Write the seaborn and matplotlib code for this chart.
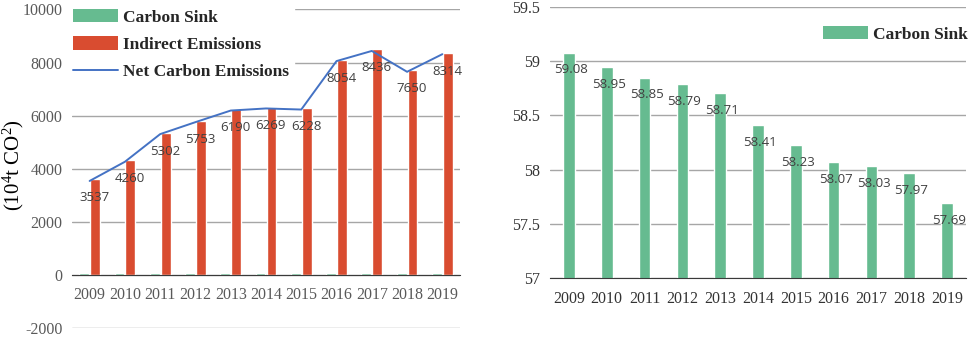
import matplotlib
matplotlib.use("Agg")
import matplotlib.pyplot as plt
from matplotlib.patches import Patch
from matplotlib.lines import Line2D
import numpy as np
import pandas as pd
import seaborn as sns

years = [2009, 2010, 2011, 2012, 2013, 2014, 2015, 2016, 2017, 2018, 2019]
net_emissions = [3537, 4260, 5302, 5753, 6190, 6269, 6228, 8054, 8436, 7650, 8314]
carbon_sink = [59.08, 58.95, 58.85, 58.79, 58.71, 58.41, 58.23, 58.07, 58.03, 57.97, 57.69]
indirect_emissions = [n + s for n, s in zip(net_emissions, carbon_sink)]

green = "#66BB90"
red = "#D94C30"
blue = "#4472C4"
grid_c = "#A6A6A6"
tick_c = "#595959"
lab_c = "#404040"

sns.set_style("white")
plt.rcParams["font.family"] = ["Liberation Serif", "DejaVu Serif"]
plt.rcParams["axes.unicode_minus"] = False
plt.rcParams["mathtext.fontset"] = "custom"
plt.rcParams["mathtext.rm"] = "Liberation Serif"
plt.rcParams["mathtext.it"] = "Liberation Serif:italic"

bars_df = pd.DataFrame({
    "year": years * 2,
    "value": carbon_sink + indirect_emissions,
    "series": ["Carbon Sink"] * len(years) + ["Indirect Emissions"] * len(years),
})
sink_df = pd.DataFrame({"year": years, "sink": carbon_sink})
net_df = pd.DataFrame({"pos": np.arange(len(years)), "net": net_emissions})

fig = plt.figure(figsize=(9.69, 3.37), dpi=100)
ax1 = fig.add_axes([0.0743, 0.027, 0.4004, 0.945])
ax2 = fig.add_axes([0.5676, 0.175, 0.4293, 0.804])

# ---- left panel
sns.barplot(data=bars_df, x="year", y="value", hue="series",
            hue_order=["Carbon Sink", "Indirect Emissions"],
            palette=[green, red], saturation=1, width=0.62, gap=0.1,
            legend=False, ax=ax1)
sns.lineplot(data=net_df, x="pos", y="net", color=blue, lw=1.4, ax=ax1)
for i, v in enumerate(net_emissions):
    ax1.annotate(f"{v}", (i, v), xytext=(3.6, -12.2), textcoords="offset points",
                 ha="center", va="center", fontsize=9.5, color=lab_c, family="Open Sans")

ax1.set_ylim(-2000, 10000)
ax1.set_yticks(range(-2000, 10001, 2000))
ax1.set_xlim(-0.5, len(years) - 0.5)
ax1.yaxis.grid(True, color=grid_c, lw=1)
ax1.set_axisbelow(True)
for s in ["top", "right", "left"]:
    ax1.spines[s].set_visible(False)
ax1.spines["bottom"].set_position(("data", 0))
ax1.spines["bottom"].set_color("#3A3A3A")
ax1.tick_params(axis="both", length=0, labelsize=11.5, labelcolor=tick_c)
ax1.tick_params(axis="x", pad=8.5)
ax1.tick_params(axis="y", pad=7)
ax1.set_xlabel("")
ax1.set_ylabel("")
fig.text(0.014, 0.51, "(10$^{4}$t CO$^{2}$)", rotation=90, ha="center", va="center",
         fontsize=15, color="black")

handles = [Patch(facecolor=green, edgecolor="none"),
           Patch(facecolor=red, edgecolor="none"),
           Line2D([], [], color=blue, lw=1.4)]
ax1.legend(handles, ["Carbon Sink", "Indirect Emissions", "Net Carbon Emissions"],
           loc="upper left", bbox_to_anchor=(-0.012, 1.018), frameon=True,
           fancybox=False, edgecolor="white", framealpha=1,
           prop={"weight": "bold", "size": 12.5}, handlelength=2.6,
           handleheight=0.8, labelspacing=0.62, handletextpad=0.3,
           borderpad=0.3, borderaxespad=0)

# ---- right panel
sns.barplot(data=sink_df, x="year", y="sink", color=green, saturation=1,
            width=0.31, ax=ax2)
for i, v in enumerate(carbon_sink):
    ax2.annotate(f"{v:.2f}", (i, v), xytext=(1.5, -12.5), textcoords="offset points",
                 ha="center", va="center", fontsize=9.5, color=lab_c, family="Open Sans")
ax2.set_ylim(57, 59.5)
ax2.set_yticks(np.arange(57, 59.51, 0.5))
ax2.set_yticklabels(["57", "57.5", "58", "58.5", "59", "59.5"])
ax2.set_xlim(-0.5, len(years) - 0.5)
ax2.yaxis.grid(True, color=grid_c, lw=1)
ax2.set_axisbelow(True)
for s in ["top", "right", "left"]:
    ax2.spines[s].set_visible(False)
ax2.spines["bottom"].set_color("#3A3A3A")
ax2.tick_params(axis="both", length=0, labelsize=11.5, labelcolor="#333333")
ax2.tick_params(axis="x", pad=9)
ax2.tick_params(axis="y", pad=7)
ax2.set_xlabel("")
ax2.set_ylabel("")
ax2.legend([Patch(facecolor=green, edgecolor="none")], ["Carbon Sink"],
           loc="upper right", bbox_to_anchor=(1.022, 0.955), frameon=False,
           prop={"weight": "bold", "size": 12.5}, handlelength=2.6, handleheight=0.8,
           handletextpad=0.3, borderaxespad=0)

fig.savefig("out.png", dpi=100)
